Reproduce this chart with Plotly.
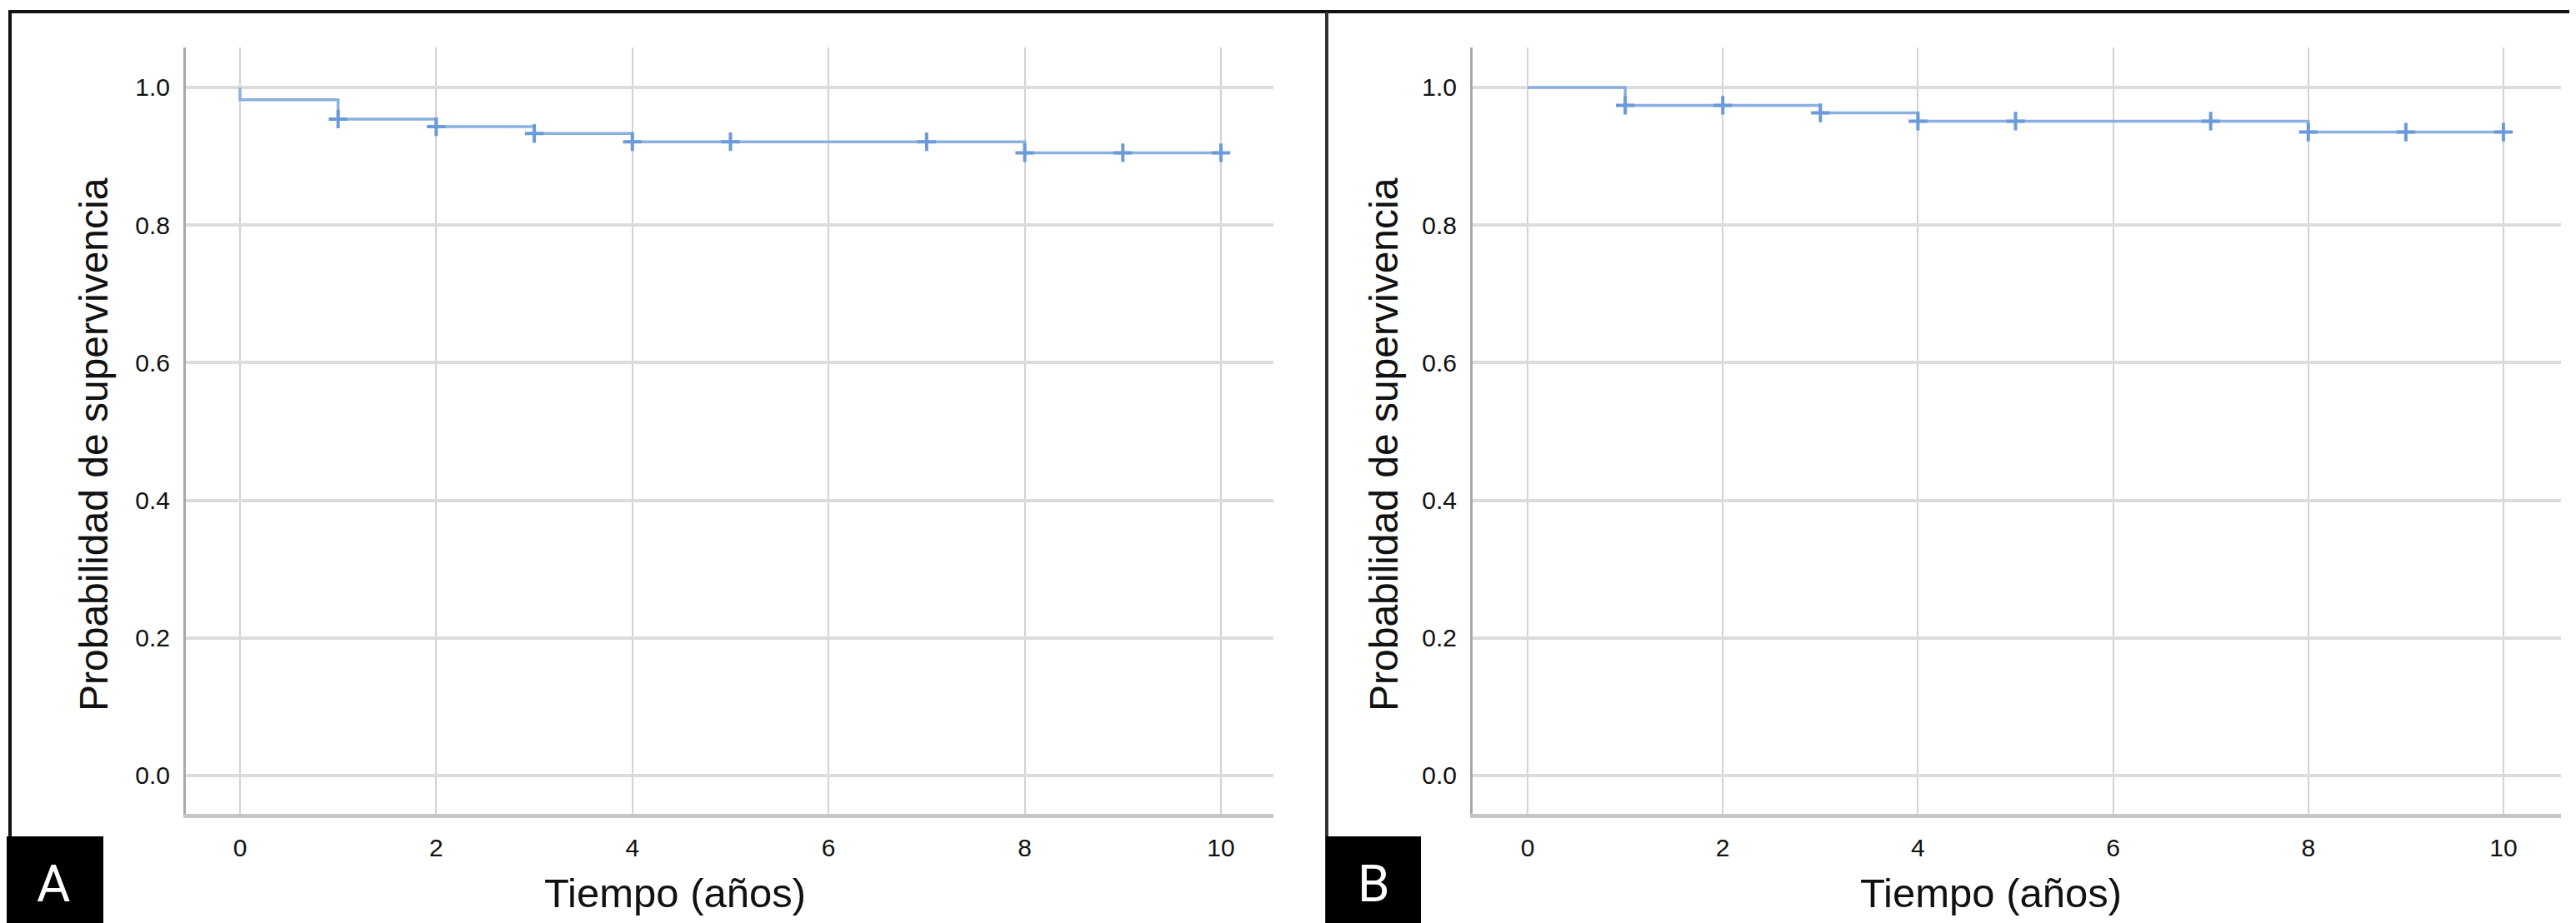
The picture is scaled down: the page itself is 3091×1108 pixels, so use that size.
import plotly.graph_objects as go

W, H = 3091, 1108

# ---- data ----
tiempo_a = [0, 0, 1, 2, 3, 4, 8, 10]
superv_a = [1.0, 0.982, 0.954, 0.943, 0.933, 0.921, 0.905, 0.905]
cens_t_a = [1, 2, 3, 4, 5, 7, 8, 9, 10]
cens_s_a = [0.954, 0.943, 0.933, 0.921, 0.921, 0.921, 0.905, 0.905, 0.905]

tiempo_b = [0, 1, 3, 4, 8, 10]
superv_b = [1.0, 0.974, 0.963, 0.951, 0.935, 0.935]
cens_t_b = [1, 2, 3, 4, 5, 7, 8, 9, 10]
cens_s_b = [0.974, 0.974, 0.963, 0.951, 0.951, 0.951, 0.935, 0.935, 0.935]

x_ticks = [0, 2, 4, 6, 8, 10]
y_ticks = [0.0, 0.2, 0.4, 0.6, 0.8, 1.0]
panel_labels = ["A", "B"]
x_title = "Tiempo (años)"
y_title = "Probabilidad de supervivencia"

LINE_C = "#8AB0E2"
MARK_C = "#6A9AD9"
FONT = "Liberation Sans, Arial, sans-serif"

def px(x):
    return x / W

def py(y):
    return 1 - y / H

fig = go.Figure()

panels = [
    dict(t=tiempo_a, s=superv_a, ct=cens_t_a, cs=cens_s_a, xa="x", ya="y"),
    dict(t=tiempo_b, s=superv_b, ct=cens_t_b, cs=cens_s_b, xa="x2", ya="y2"),
]
for p in panels:
    fig.add_trace(go.Scatter(x=p["t"], y=p["s"], mode="lines", line_shape="hv",
                             line=dict(color=LINE_C, width=3.5),
                             xaxis=p["xa"], yaxis=p["ya"], showlegend=False,
                             hoverinfo="skip"))
    fig.add_trace(go.Scatter(x=p["ct"], y=p["cs"], mode="markers",
                             marker=dict(symbol="cross-thin-open", size=16,
                                         color=MARK_C,
                                         line=dict(color=MARK_C, width=4)),
                             xaxis=p["xa"], yaxis=p["ya"], showlegend=False,
                             hoverinfo="skip"))

ydom = [py(969), py(49)]
yrange = [-0.0557, 1.058]

def xaxis(dom, rng, anchor):
    return dict(domain=dom, range=rng, anchor=anchor, tickvals=x_ticks,
                showgrid=True, gridcolor="#d2d2d2", gridwidth=2,
                zeroline=False, showline=True, linecolor="#c6c6c6", linewidth=5,
                ticks="", ticklabelstandoff=10,
                tickfont=dict(family=FONT, size=30, color="#111111"))

def yaxis(rng, anchor):
    return dict(domain=ydom, range=rng, anchor=anchor, tickvals=y_ticks,
                tickformat=".1f", showgrid=True, gridcolor="#dcdcdc",
                gridwidth=3.5, zeroline=False, showline=True,
                linecolor="#a8a8a8", linewidth=3, ticks="",
                ticklabelstandoff=10,
                tickfont=dict(family=FONT, size=30, color="#111111"))

fig.update_layout(
    width=W, height=H, margin=dict(l=0, r=0, t=0, b=0),
    paper_bgcolor="white", plot_bgcolor="white",
    xaxis=xaxis([px(215), px(1520)], [-0.552, 10.535], "y"),
    yaxis=yaxis(yrange, "x"),
    xaxis2=xaxis([px(1759), px(3065)], [-0.564, 10.59], "y2"),
    yaxis2=yaxis(yrange, "x2"),
)

shapes = [
    # outer frame
    dict(type="rect", xref="paper", yref="paper", x0=px(4), x1=px(3087),
         y0=py(1104), y1=py(6), line=dict(color="#111111", width=4)),
    # divider
    dict(type="line", xref="paper", yref="paper", x0=px(1584), x1=px(1584),
         y0=py(1104), y1=py(6), line=dict(color="#333333", width=4)),
    # label boxes
    dict(type="rect", xref="paper", yref="paper", x0=0, x1=px(116),
         y0=0, y1=py(996), fillcolor="black", line=dict(width=0)),
    dict(type="rect", xref="paper", yref="paper", x0=px(1583), x1=px(1697),
         y0=py(1104), y1=py(996), fillcolor="black", line=dict(width=0)),
]
fig.update_layout(shapes=shapes)

ann = []
for cx, ycx in [(802, 104), (2381, 1652)]:
    ann.append(dict(text=x_title, xref="paper", yref="paper", x=px(cx),
                    y=py(1064), xanchor="center", yanchor="middle",
                    showarrow=False, font=dict(family=FONT, size=49, color="#111111")))
    ann.append(dict(text=y_title, xref="paper", yref="paper", x=px(ycx),
                    y=py(526), xanchor="center", yanchor="middle", textangle=-90,
                    showarrow=False, font=dict(family=FONT, size=48, color="#111111")))
for lab, cx in zip(panel_labels, [56, 1640]):
    ann.append(dict(text=lab, xref="paper", yref="paper", x=px(cx), y=py(1052),
                    xanchor="center", yanchor="middle", showarrow=False,
                    font=dict(family="Roboto, Liberation Sans, sans-serif", size=62, color="white")))
fig.update_layout(annotations=ann)

fig.write_html("out.html")
